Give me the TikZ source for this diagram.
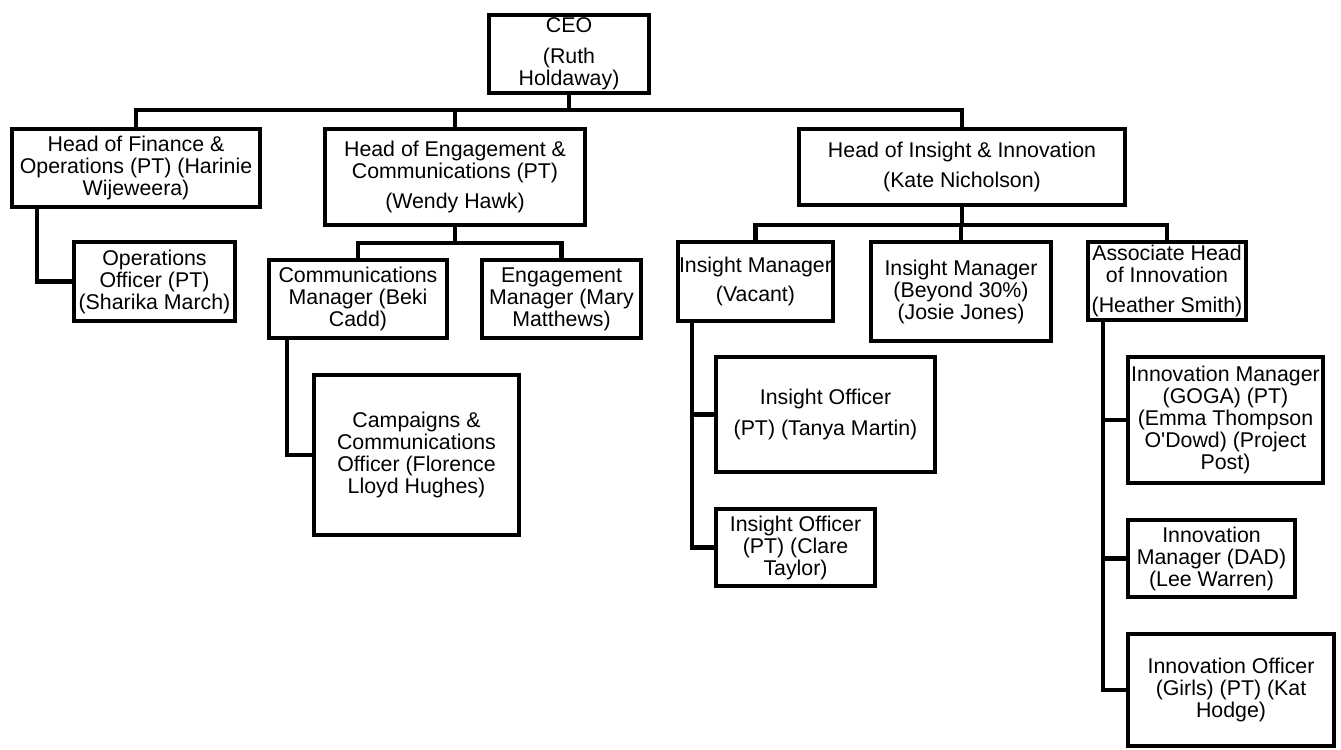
\documentclass[tikz,border=0pt]{standalone}
\usepackage{fontspec}
\newfontfamily\arialf{Liberation Sans}
\usetikzlibrary{calc}
\begin{document}
\begin{tikzpicture}[x=0.75pt,y=-0.75pt,
  box/.style={draw=black, line width=3.3pt, fill=white, inner sep=0pt, align=center,
    font=\arialf\fontsize{16}{16.5}\selectfont},
  conn/.style={draw=black, line width=3.3pt}]
\useasboundingbox (0,0) rectangle (1341,749);

% level 0
\node[box, minimum width=120pt, minimum height=58.5pt] (ceo) at (569,54) {CEO\\[6.75pt](Ruth\\Holdaway)};
% level 1
\node[box, minimum width=186pt, minimum height=58.5pt] (hof) at (136,168) {Head of Finance \&\\Operations (PT) (Harinie\\Wijeweera)};
\node[box, minimum width=195pt, minimum height=72pt] (hoe) at (455,177) {Head of Engagement \&\\Communications (PT)\\[6pt](Wendy Hawk)};
\node[box, minimum width=244.5pt, minimum height=57pt] (hoi) at (962,167) {Head of Insight \& Innovation\\[6pt](Kate Nicholson)};
% level 2
\node[box, minimum width=120.75pt, minimum height=59.25pt] (ops) at (154.5,281.5) {Operations\\Officer (PT)\\(Sharika March)};
\node[box, minimum width=133.5pt, minimum height=58.5pt] (comms) at (358,299) {Communications\\Manager (Beki\\Cadd)};
\node[box, minimum width=119.25pt, minimum height=58.5pt] (eng) at (561.5,299) {Engagement\\Manager (Mary\\Matthews)};
\node[box, minimum width=116.25pt, minimum height=59.25pt] (vac) at (755.5,281.5) {Insight Manager\\[5pt](Vacant)};
\node[box, minimum width=135pt, minimum height=74.25pt] (beyond) at (961,291.5) {Insight Manager\\(Beyond 30\%)\\(Josie Jones)};
\node[box, minimum width=118.5pt, minimum height=58.5pt] (assoc) at (1167,281) {Associate Head\\of Innovation\\[6pt](Heather Smith)};
% level 3
\node[box, minimum width=153.75pt, minimum height=120pt] (camp) at (416.5,455) {Campaigns \&\\Communications\\Officer (Florence\\Lloyd Hughes)};
\node[box, minimum width=164.25pt, minimum height=86.25pt] (tanya) at (825.5,414.5) {Insight Officer\\[7pt](PT) (Tanya Martin)};
\node[box, minimum width=119.25pt, minimum height=57.75pt] (clare) at (795.5,547.5) {Insight Officer\\(PT) (Clare\\Taylor)};
\node[box, minimum width=146.25pt, minimum height=94.5pt] (goga) at (1225.5,420) {Innovation Manager\\(GOGA) (PT)\\(Emma Thompson\\O'Dowd) (Project\\Post)};
\node[box, minimum width=125.25pt, minimum height=57.75pt] (dad) at (1211.5,558.5) {Innovation\\Manager (DAD)\\(Lee Warren)};
\node[box, minimum width=154.5pt, minimum height=84pt] (kat) at (1231,690) {Innovation Officer\\(Girls) (PT) (Kat\\Hodge)};

% connectors
\coordinate (b1) at (0,110);
\coordinate (b2) at (0,243);
\coordinate (b3) at (0,225);
\draw[conn] (ceo.south) -- (ceo.south |- b1);
\draw[conn] (hof.north) |- (b1 -| hoi.north) -- (hoi.north);
\draw[conn] (hoe.north) -- (hoe.north |- b1);

\draw[conn] (hoe.south) -- (hoe.south |- b2);
\draw[conn] (comms.north) |- (b2 -| eng.north) -- (eng.north);

\draw[conn] (hoi.south) -- (hoi.south |- b3);
\draw[conn] (vac.north) |- (b3 -| assoc.north) -- (assoc.north);
\draw[conn] (beyond.north) -- (beyond.north |- b3);

\coordinate (hx) at ($(hof.south west)+(27,0)$);
\draw[conn] (hx) |- (ops.west);

\coordinate (cx) at ($(comms.south west)+(20,0)$);
\draw[conn] (cx) |- (camp.west);

\coordinate (vx) at ($(vac.south west)+(16,0)$);
\draw[conn] (vx) |- (clare.west);
\draw[conn] (vx |- tanya.west) -- (tanya.west);

\coordinate (ax) at ($(assoc.south west)+(17,0)$);
\draw[conn] (ax) |- (kat.west);
\draw[conn] (ax |- goga.west) -- (goga.west);
\draw[conn] (ax |- dad.west) -- (dad.west);
\end{tikzpicture}
\end{document}
